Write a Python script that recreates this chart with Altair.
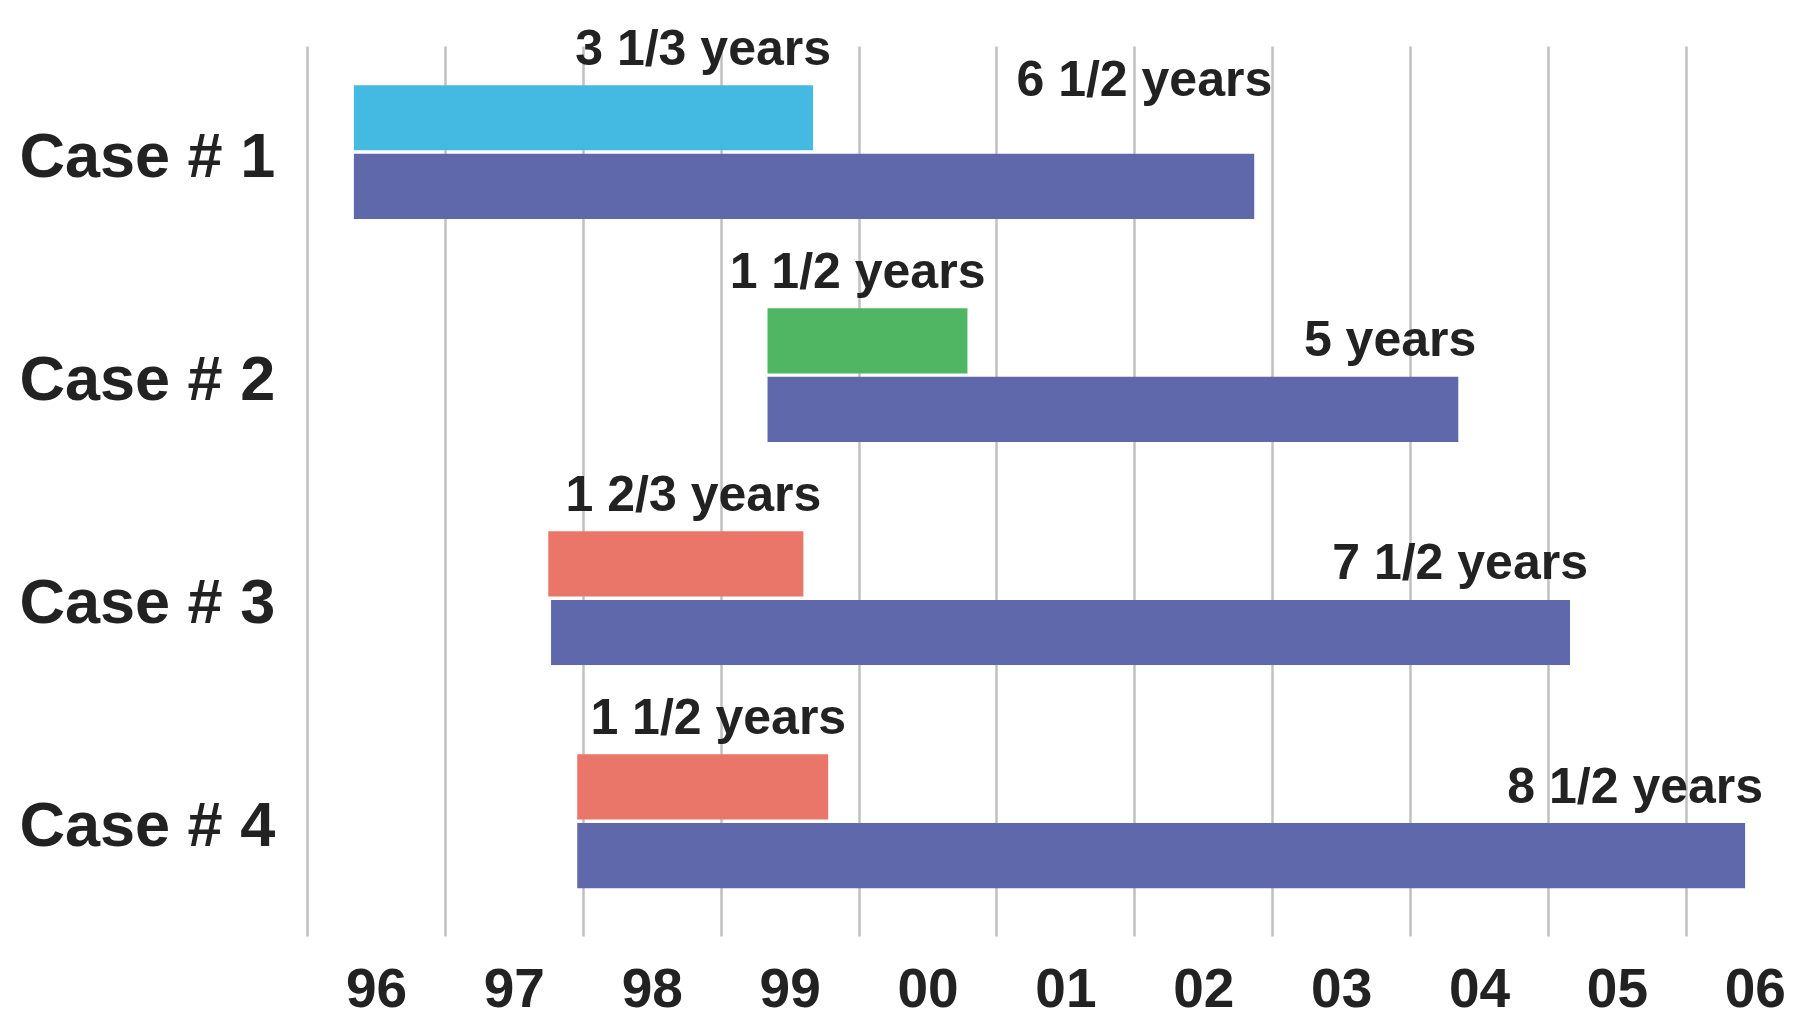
import altair as alt
import pandas as pd

cases = ["Case # 1", "Case # 2", "Case # 3", "Case # 4"]
short_start = [1996.34, 1999.34, 1997.75, 1997.96]
short_end = [1999.67, 2000.79, 1999.60, 1999.78]
short_labels = ["3 1/3 years", "1 1/2 years", "1 2/3 years", "1 1/2 years"]
short_groups = ["cyan", "green", "salmon", "salmon"]
long_start = [1996.34, 1999.34, 1997.77, 1997.96]
long_end = [2002.87, 2004.35, 2005.16, 2006.43]
long_labels = ["6 1/2 years", "5 years", "7 1/2 years", "8 1/2 years"]

year_ticks = [1996, 1997, 1998, 1999, 2000, 2001, 2002, 2003, 2004, 2005, 2006]
year_labels = ["96", "97", "98", "99", "00", "01", "02", "03", "04", "05", "06"]

group_domain = ["cyan", "green", "salmon", "long"]
group_colors = ["#44b9e2", "#50b663", "#ea766a", "#5f68aa"]

rows = []
for i, c in enumerate(cases):
    rows.append(dict(case=c, kind="short", start=short_start[i], end=short_end[i],
                     label=short_labels[i], group=short_groups[i]))
    rows.append(dict(case=c, kind="long", start=long_start[i], end=long_end[i],
                     label=long_labels[i], group="long"))
df = pd.DataFrame(rows)

FONT = "Liberation Sans"
label_expr = ("[" + ",".join(f"'{t}'" for t in year_labels) + "][indexof(["
              + ",".join(str(y) for y in year_ticks) + "], datum.value)]")

x_scale = alt.Scale(domain=[1996, 2006.85], nice=False, zero=False)
y_scale = alt.Scale(domain=cases, paddingInner=0.4, paddingOuter=0.195, align=0.45)
yoff_scale = alt.Scale(domain=["short", "long"], paddingInner=0.05, paddingOuter=0)

x_axis = alt.Axis(values=year_ticks, labelExpr=label_expr, grid=True, gridColor="#c0c0c0",
                  gridWidth=2.5, ticks=False, domain=False, labelOffset=69,
                  labelFontSize=55, labelFont=FONT, labelFontWeight="bold", labelColor="#222222",
                  labelPadding=70, labelBaseline="alphabetic", labelFlush=False,
                  labelOverlap=False, title=None)
y_axis = alt.Axis(ticks=False, domain=False, grid=False, labelAlign="left", labelPadding=288,
                  labelFontSize=63, labelFont=FONT, labelFontWeight="bold", labelColor="#222222",
                  labelBaseline="middle", labelOffset=6, labelLimit=0, title=None)

base = alt.Chart(df)

bars = base.mark_bar().encode(
    x=alt.X("start:Q", scale=x_scale, axis=x_axis),
    x2="end:Q",
    y=alt.Y("case:N", scale=y_scale, axis=y_axis),
    yOffset=alt.YOffset("kind:N", scale=yoff_scale),
    color=alt.Color("group:N", scale=alt.Scale(domain=group_domain, range=group_colors), legend=None),
)

text_style = dict(align="right", baseline="alphabetic", dx=18, fontSize=50, font=FONT,
                  fontWeight="bold", color="#222222")
text_enc = dict(
    x=alt.X("end:Q", scale=x_scale),
    y=alt.Y("case:N", scale=y_scale),
    yOffset=alt.YOffset("kind:N", scale=yoff_scale),
    text="label:N",
)

texts = base.mark_text(dy=-53, **text_style).encode(**text_enc).transform_filter(
    "!(datum.case == 'Case # 1' && datum.kind == 'long')")
text_top = base.mark_text(dy=-90, **text_style).encode(**text_enc).transform_filter(
    "datum.case == 'Case # 1' && datum.kind == 'long'")

chart = alt.layer(bars, texts, text_top).properties(
    width=1496, height=890,
    padding={"left": 307, "top": 46, "right": 0, "bottom": 85},
    autosize="none",
    background="white",
).configure_view(stroke=None)

chart.save("out.html", embed_options={"renderer": "svg", "actions": False})
